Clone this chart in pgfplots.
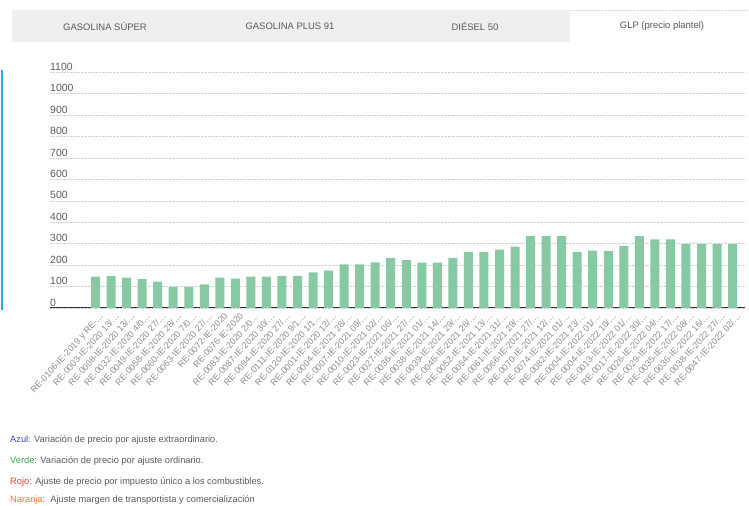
\documentclass[border=0pt]{standalone}
\usepackage{pgfplots}
\pgfplotsset{compat=1.18}
\usepackage{fontspec}
\setmainfont{Liberation Sans}
\definecolor{barg}{HTML}{86C9A4}
\definecolor{tabg}{HTML}{EFEFEF}
\definecolor{txt}{HTML}{5A5A5A}
\definecolor{azul}{HTML}{3949AB}
\definecolor{verde}{HTML}{43A047}
\definecolor{rojo}{HTML}{E53935}
\definecolor{naranja}{HTML}{FF7043}
\definecolor{lblue}{HTML}{2EA8DC}
\begin{document}
\begin{tikzpicture}
\path[use as bounding box] (0,0) rectangle (749bp,506bp);
% tabs
\fill[tabg] (12bp,464bp) rectangle (749bp,496bp);
\fill[white] (570bp,464bp) rectangle (749bp,496bp);
\draw[gray!30, densely dotted] (570bp,496bp) -- (749bp,496bp);
\node[font=\fontsize{9.5}{11}\selectfont, text=txt] at (105bp,480bp) {GASOLINA SÚPER};
\node[font=\fontsize{9.5}{11}\selectfont, text=txt] at (290bp,480bp) {GASOLINA PLUS 91};
\node[font=\fontsize{9.5}{11}\selectfont, text=txt] at (475bp,480bp) {DIÉSEL 50};
\node[font=\fontsize{9.5}{11}\selectfont, text=txt] at (662bp,480bp) {GLP (precio plantel)};
% left blue line
\draw[lblue, line width=1.5bp] (2bp,196bp) -- (2bp,436bp);
\begin{axis}[
  at={(50bp,198bp)}, anchor=south west,
  scale only axis, width=695bp, height=236bp,
  xmin=-2.93, xmax=41.8, ymin=0, ymax=1100,
  ybar, bar width=9bp, bar shift=0pt,
  axis lines*=left,
  y axis line style={draw=none},
  x axis line style={black!80, line width=1bp},
  major tick length=0pt,
  ytick={0,100,...,1100},
  ymajorgrids, grid style={densely dotted, gray!35},
  /pgf/number format/assume math mode=true,
  /pgf/number format/1000 sep={},
  yticklabel style={anchor=south west, inner sep=1.5bp, xshift=-1.5bp, font=\fontsize{10.5}{12}\selectfont, text=txt},
  xtick={0,...,41},
  xticklabels={
    {RE-0106-IE-2019 y RE-…},{RE-0003-IE-2020 13/…},{RE-0008-IE-2020 13/…},{RE-0032-IE-2020 4/0…},
    {RE-0049-IE-2020 27/…},{RE-0058-IE-2020 28/…},{RE-0060-IE-2020 7/0…},{RE-0063-IE-2020 27/…},
    {RE-0072-IE-2020},{RE-0076-IE-2020},{RE-0083-IE-2020 2/0…},{RE-0087-IE-2020 30/…},
    {RE-0094-IE-2020 27/…},{RE-0111-IE-2020 9/1…},{RE-0120-IE-2020 1/1…},{RE-0001-IE-2020 12/…},
    {RE-0004-IE-2021 28/…},{RE-0007-IE-2021 09/…},{RE-0010-IE-2021 02/…},{RE-0023-IE-2021 06/…},
    {RE-0027-IE-2021 27/…},{RE-0036-IE-2021 01/…},{RE-0038-IE-2021 14/…},{RE-0039-IE-2021 29/…},
    {RE-0046-IE-2021 28/…},{RE-0052-IE-2021 13/…},{RE-0054-IE-2021 31/…},{RE-0061-IE-2021 29/…},
    {RE-0066-IE-2021 27/…},{RE-0070-IE-2021 12/…},{RE-0074-IE-2021 01/…},{RE-0082-IE-2021 23/…},
    {RE-0004-IE-2022 01/…},{RE-0004-IE-2022 10/…},{RE-0013-IE-2022 01/…},{RE-0017-IE-2022 30/…},
    {RE-0026-IE-2022 04/…},{RE-0029-IE-2022 17/…},{RE-0035-IE-2022 08/…},{RE-0036-IE-2022 16/…},
    {RE-0038-IE-2022 27/…},{RE-0047-IE-2022 02/…}},
  xticklabel style={rotate=48, anchor=north east, inner sep=0.5bp, yshift=-5bp, font=\fontsize{9}{10}\selectfont, text=gray!90},
]
\addplot[fill=barg, draw=none] coordinates {
(0,146) (1,150) (2,141) (3,134) (4,123) (5,99) (6,99) (7,110)
(8,141) (9,137) (10,146) (11,146) (12,150) (13,150) (14,166) (15,174)
(16,203) (17,203) (18,213) (19,234) (20,223) (21,211) (22,211) (23,234)
(24,262) (25,262) (26,272) (27,286) (28,335) (29,335) (30,335) (31,262)
(32,267) (33,265) (34,290) (35,335) (36,320) (37,320) (38,298) (39,298)
(40,298) (41,298)
};
\end{axis}
% notes
\begin{scope}[every node/.style={anchor=west, font=\fontsize{9.3}{11}\selectfont, text=txt, inner sep=0pt}]
\node at (10bp,66bp) {\textcolor{azul}{Azul}: Variación de precio por ajuste extraordinario.};
\node at (10bp,45bp) {\textcolor{verde}{Verde}: Variación de precio por ajuste ordinario.};
\node at (10bp,24bp) {\textcolor{rojo}{Rojo}: Ajuste de precio por impuesto único a los combustibles.};
\node at (10bp,6bp) {\textcolor{naranja}{Naranja}:\ \ Ajuste margen de transportista y comercialización};
\end{scope}
\end{tikzpicture}
\end{document}
